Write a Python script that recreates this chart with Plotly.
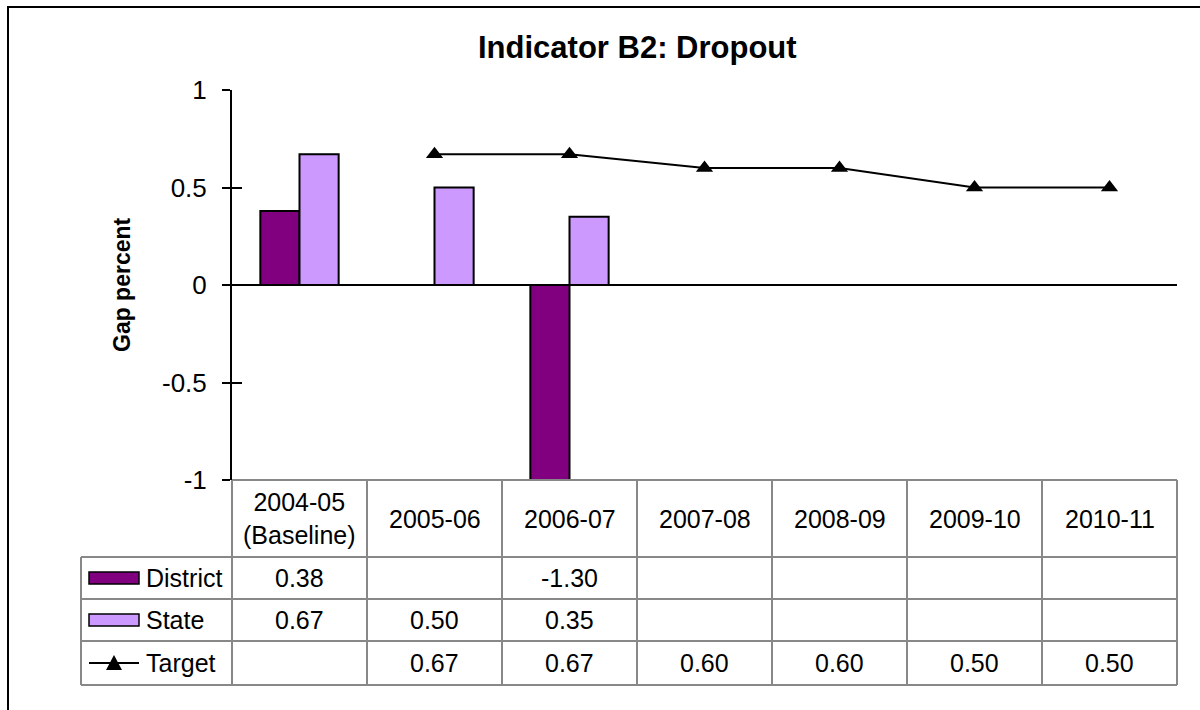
import plotly.graph_objects as go

W, H = 1200, 710

years = ["2004-05<br>(Baseline)", "2005-06", "2006-07", "2007-08", "2008-09", "2009-10", "2010-11"]
district = [0.38, None, -1.30, None, None, None, None]
state = [0.67, 0.50, 0.35, None, None, None, None]
target = [None, 0.67, 0.67, 0.60, 0.60, 0.50, 0.50]
yticks = [-1, -0.5, 0, 0.5, 1]

DISTRICT_COL = "#800080"
STATE_COL = "#CC99FF"
GRID = "#888888"
FONT = "Liberation Sans, Arial, sans-serif"

# pixel box of the plot area
X0, X1 = 232, 1177
Y0, Y1 = 90, 480
# table rows (pixels)
HEAD_BOT = 557
ROWS = [557, 599, 641, 685]
LEG_X = 81


def px(x):
    return x / W


def py(y):
    return 1 - y / H


xs = list(range(len(years)))

fig = go.Figure()
fig.add_trace(go.Bar(x=xs, y=district, name="District", marker=dict(color=DISTRICT_COL, line=dict(color="black", width=2))))
fig.add_trace(go.Bar(x=xs, y=state, name="State", marker=dict(color=STATE_COL, line=dict(color="black", width=2))))
fig.add_trace(go.Scatter(x=xs, y=target, name="Target", mode="lines+markers",
                         line=dict(color="black", width=2),
                         marker=dict(symbol="triangle-up", size=15, color="black")))
# empty trace so the overlay axis (inner half of the cross ticks) gets drawn
fig.add_trace(go.Scatter(x=[None], y=[None], yaxis="y2", mode="lines", hoverinfo="skip", showlegend=False))

shapes = []
# outer frame
shapes.append(dict(type="rect", xref="paper", yref="paper", x0=px(8), x1=px(1260), y0=py(7), y1=py(760),
                   line=dict(color="black", width=2), layer="below"))

# table lines
def hline(y, xa, xb):
    shapes.append(dict(type="line", xref="paper", yref="paper", x0=px(xa), x1=px(xb), y0=py(y), y1=py(y),
                       line=dict(color=GRID, width=2)))


def vline(x, ya, yb):
    shapes.append(dict(type="line", xref="paper", yref="paper", x0=px(x), x1=px(x), y0=py(ya), y1=py(yb),
                       line=dict(color=GRID, width=2)))


cw = (X1 - X0) / len(years)
hline(Y1, X0, X1)
for y in ROWS:
    hline(y, LEG_X, X1)
for i in range(len(years) + 1):
    vline(X0 + i * cw, Y1, ROWS[-1])
vline(LEG_X, ROWS[0], ROWS[-1])

annotations = []
# title
annotations.append(dict(text="<b>Indicator B2: Dropout</b>", xref="paper", yref="paper", x=px(637), y=py(47),
                        showarrow=False, font=dict(size=31, family=FONT, color="black"), xanchor="center", yanchor="middle"))
annotations.append(dict(text="<b>Gap percent</b>", xref="paper", yref="paper", x=px(122), y=py(285), textangle=-90,
                        showarrow=False, font=dict(size=23, family=FONT, color="black"), xanchor="center", yanchor="middle"))

cell_font = dict(size=25, family=FONT, color="black")
for i, yr in enumerate(years):
    annotations.append(dict(text=yr, x=i, xref="x", yref="paper", y=py((Y1 + HEAD_BOT) / 2), showarrow=False,
                            font=cell_font, xanchor="center", yanchor="middle"))

for r, series in enumerate([district, state, target]):
    yc = (ROWS[r] + ROWS[r + 1]) / 2
    for i, v in enumerate(series):
        if v is None:
            continue
        annotations.append(dict(text=f"{v:.2f}", x=i, xref="x", yref="paper", y=py(yc), showarrow=False,
                                font=cell_font, xanchor="center", yanchor="middle"))

# legend keys in the first table column
legend_names = ["District", "State", "Target"]
for r, name in enumerate(legend_names):
    yc = (ROWS[r] + ROWS[r + 1]) / 2
    annotations.append(dict(text=name, xref="paper", yref="paper", x=px(144), y=py(yc), showarrow=False,
                            font=cell_font, xanchor="left", yanchor="middle"))
for r, col in enumerate([DISTRICT_COL, STATE_COL]):
    yc = (ROWS[r] + ROWS[r + 1]) / 2
    shapes.append(dict(type="rect", xref="paper", yref="paper", x0=px(89), x1=px(139), y0=py(yc - 6), y1=py(yc + 6),
                       fillcolor=col, line=dict(color="black", width=1.5)))
yc = (ROWS[2] + ROWS[3]) / 2
shapes.append(dict(type="line", xref="paper", yref="paper", x0=px(89), x1=px(139), y0=py(yc), y1=py(yc),
                   line=dict(color="black", width=2)))
shapes.append(dict(type="path", xref="paper", yref="paper",
                   path=f"M {px(106)} {py(yc + 7)} L {px(122)} {py(yc + 7)} L {px(114)} {py(yc - 8)} Z",
                   fillcolor="black", line=dict(color="black", width=0)))

fig.update_layout(
    width=W, height=H,
    margin=dict(l=0, r=0, t=0, b=0),
    paper_bgcolor="white", plot_bgcolor="white",
    showlegend=False,
    barmode="group", bargap=0.42, bargroupgap=0,
    font=dict(family=FONT, color="black"),
    xaxis=dict(domain=[px(X0), px(X1)], range=[-0.5, len(years) - 0.5], showticklabels=False,
               showgrid=False, zeroline=False, showline=False, ticks="", automargin=False),
    yaxis=dict(domain=[py(Y1), py(Y0)], range=[-1, 1], tickvals=yticks,
               ticktext=[f"{t:g}" for t in yticks], automargin=False,
               showgrid=False, zeroline=True, zerolinecolor="black", zerolinewidth=2,
               showline=True, linecolor="black", linewidth=2, ticks="outside", ticklen=8, tickwidth=2,
               tickcolor="black", ticklabelstandoff=10,
               tickfont=dict(size=26, family=FONT, color="black")),
    yaxis2=dict(domain=[py(Y1), py(Y0)], range=[-1, 1], tickvals=yticks, overlaying="y", side="left",
                showticklabels=False, automargin=False, showgrid=False, zeroline=False, showline=False,
                ticks="inside", ticklen=10, tickwidth=2, tickcolor="black"),
    shapes=shapes,
    annotations=annotations,
)

# page margin off so the figure sits at the window's top-left corner
fig.write_html("out.html", config={"displayModeBar": False},
               post_script="document.body.style.margin='0';")
